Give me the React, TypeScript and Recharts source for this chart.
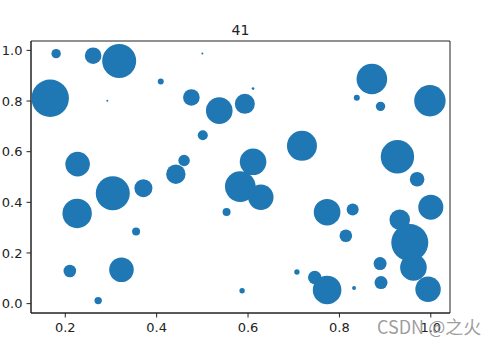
import { ScatterChart, Scatter, XAxis, YAxis, ZAxis, ReferenceArea } from "recharts";

// positions (matplotlib-style random scatter)
const xs = [
  0.180, 0.261, 0.318, 0.500, 0.167, 0.292, 0.409, 0.476, 0.537, 0.593,
  0.501, 0.227, 0.460, 0.442, 0.304, 0.371, 0.226, 0.355, 0.553, 0.210,
  0.323, 0.272, 0.587, 0.611, 0.871, 0.838, 0.890, 0.998, 0.718, 0.927,
  0.970, 0.611, 0.583, 0.628, 0.773, 0.829, 1.000, 0.932, 0.814, 0.954,
  0.889, 0.962, 0.707, 0.746, 0.773, 0.832, 0.891, 0.994,
];
const ys = [
  0.987, 0.979, 0.958, 0.988, 0.811, 0.801, 0.877, 0.814, 0.762, 0.789,
  0.665, 0.551, 0.565, 0.511, 0.436, 0.456, 0.356, 0.285, 0.362, 0.129,
  0.134, 0.012, 0.051, 0.849, 0.887, 0.813, 0.779, 0.801, 0.623, 0.580,
  0.491, 0.560, 0.462, 0.420, 0.361, 0.372, 0.381, 0.331, 0.268, 0.241,
  0.158, 0.143, 0.125, 0.103, 0.054, 0.062, 0.083, 0.057,
];
// marker sizes (area, points^2)
const sizes = [
  88, 276, 1156, 4, 1399, 4, 36, 276, 708, 400,
  100, 605, 130, 376, 1156, 324, 864, 64, 64, 159,
  605, 55, 29, 7, 936, 36, 88, 986, 900, 1116,
  213, 708, 936, 645, 708, 144, 625, 424, 159, 1369,
  169, 708, 29, 180, 818, 16, 169, 645,
];

const xTicks = [0.2, 0.4, 0.6, 0.8, 1.0];
const yTicks = [0.0, 0.2, 0.4, 0.6, 0.8, 1.0];
const xDomain = [0.125, 1.042];
const yDomain = [-0.037, 1.037];

const points = xs.map((x, i) => ({ x, y: ys[i], s: sizes[i] }));

const tickStyle = { fontSize: 13, fill: "#222", fontFamily: "DejaVu Sans" };
const axisLine = { stroke: "#222", strokeWidth: 1 };

export default function App() {
  return (
    <div style={{ position: "absolute", left: 0, top: 0, width: 503, height: 346, background: "#fff" }}>
      <ScatterChart
        width={503}
        height={346}
        margin={{ top: 41, right: 53, bottom: 0, left: 0 }}
      >
        <XAxis
          xAxisId="b"
          type="number"
          dataKey="x"
          domain={xDomain}
          ticks={xTicks}
          tickFormatter={(v) => v.toFixed(1)}
          tick={tickStyle}
          tickSize={4.5}
          tickMargin={5}
          axisLine={axisLine}
          tickLine={axisLine}
          height={33}
        />
        <YAxis
          yAxisId="l"
          type="number"
          dataKey="y"
          domain={yDomain}
          ticks={yTicks}
          tickFormatter={(v) => v.toFixed(1)}
          tick={tickStyle}
          tickSize={4.5}
          tickMargin={4}
          axisLine={axisLine}
          tickLine={axisLine}
          width={31}
        />
        <ZAxis dataKey="s" domain={[0, 1600]} range={[0, 1257]} />
        <ReferenceArea
          xAxisId="b"
          yAxisId="l"
          x1={xDomain[0]}
          x2={xDomain[1]}
          y1={yDomain[0]}
          y2={yDomain[1]}
          fill="none"
          fillOpacity={0}
          stroke="#222"
          strokeWidth={1}
        />
        <Scatter
          xAxisId="b"
          yAxisId="l"
          data={points}
          fill="#1f77b4"
          isAnimationActive={false}
        />
      </ScatterChart>
      <div
        style={{
          position: "absolute",
          left: 0,
          width: 481,
          top: 23,
          textAlign: "center",
          fontFamily: "DejaVu Sans",
          fontSize: 14,
          lineHeight: "14px",
          color: "#222",
        }}
      >
        41
      </div>
      <div
        style={{
          position: "absolute",
          left: 377,
          top: 315,
          fontFamily: "'Noto Sans CJK SC', 'Noto Sans', sans-serif",
          fontSize: 18,
          lineHeight: "22px",
          color: "rgba(140,140,140,0.85)",
          whiteSpace: "nowrap",
        }}
      >
        CSDN @之火
      </div>
    </div>
  );
}
